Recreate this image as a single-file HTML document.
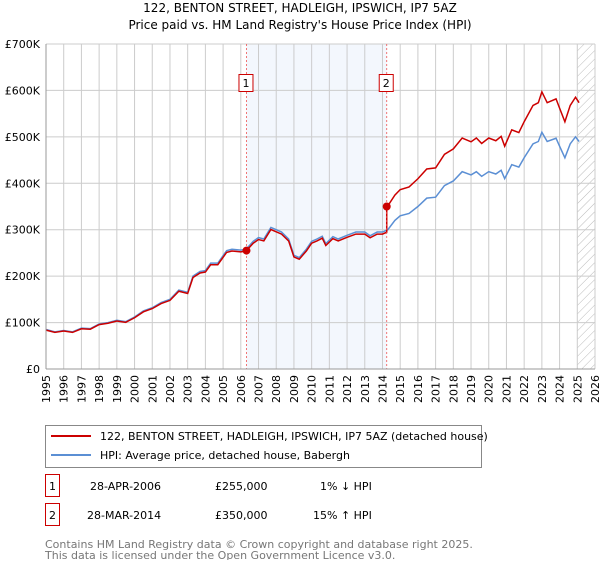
<!DOCTYPE html>
<html><head><meta charset="utf-8"><style>
body{margin:0;background:#fff;font-family:"DejaVu Sans","Liberation Sans",sans-serif;}
svg text{font-family:"DejaVu Sans","Liberation Sans",sans-serif;}
</style></head><body>
<svg id="chart" width="600" height="560" viewBox="0 0 600 560" xmlns="http://www.w3.org/2000/svg">
<defs><pattern id="hatch" width="6" height="6" patternUnits="userSpaceOnUse" patternTransform="rotate(45)"><line x1="0" y1="0" x2="0" y2="6" stroke="#bbb" stroke-width="1"/></pattern></defs>
<text x="300" y="12" text-anchor="middle" font-size="12">122, BENTON STREET, HADLEIGH, IPSWICH, IP7 5AZ</text>
<text x="300" y="29" text-anchor="middle" font-size="12">Price paid vs. HM Land Registry's House Price Index (HPI)</text>
<g id="grid"></g><g id="series"></g><g id="axes"></g>
<g>
<rect x="45.5" y="425.5" width="436" height="42" fill="#fff" stroke="#888"/>
<line x1="51" y1="436" x2="91" y2="436" stroke="#cc0000" stroke-width="2"/>
<text x="100" y="440" font-size="11">122, BENTON STREET, HADLEIGH, IPSWICH, IP7 5AZ (detached house)</text>
<line x1="51" y1="455" x2="91" y2="455" stroke="#5b8fd4" stroke-width="2"/>
<text x="100" y="459" font-size="11">HPI: Average price, detached house, Babergh</text>
</g>
<g font-size="11">
<rect x="45.5" y="474.5" width="14" height="22" fill="#fff" stroke="#cc0000"/><text x="52.5" y="490" text-anchor="middle">1</text>
<text x="90" y="490">28-APR-2006</text><text x="215" y="490">£255,000</text><text x="320" y="490">1% ↓ HPI</text>
<rect x="45.5" y="503.5" width="14" height="22" fill="#fff" stroke="#cc0000"/><text x="52.5" y="519" text-anchor="middle">2</text>
<text x="87" y="519">28-MAR-2014</text><text x="215" y="519">£350,000</text><text x="313" y="519">15% ↑ HPI</text>
</g>
<text x="45" y="548" font-size="11" fill="#777">Contains HM Land Registry data © Crown copyright and database right 2025.</text>
<text x="45" y="559" font-size="11" fill="#777">This data is licensed under the Open Government Licence v3.0.</text>
</svg>
<script>
const hpiYears=[1995.0,1995.5,1996.0,1996.5,1997.0,1997.5,1998.0,1998.5,1999.0,1999.5,2000.0,2000.5,2001.0,2001.5,2002.0,2002.5,2003.0,2003.3,2003.7,2004.0,2004.3,2004.7,2005.2,2005.5,2006.0,2006.3,2006.7,2007.0,2007.3,2007.7,2008.0,2008.3,2008.7,2009.0,2009.3,2009.7,2010.0,2010.3,2010.6,2010.8,2011.2,2011.5,2012.0,2012.5,2013.0,2013.3,2013.7,2014.0,2014.3,2014.7,2015.0,2015.5,2016.0,2016.5,2017.0,2017.5,2018.0,2018.5,2019.0,2019.3,2019.6,2020.0,2020.4,2020.7,2020.9,2021.3,2021.7,2022.0,2022.5,2022.8,2023.0,2023.3,2023.8,2024.0,2024.3,2024.6,2024.9,2025.1];
const hpiValues=[85,80,83,80,88,87,97,100,105,102,112,125,132,143,150,170,165,200,210,212,228,228,255,258,256,258,275,283,280,305,300,295,280,245,240,258,275,280,286,270,285,280,288,295,295,287,295,295,300,320,330,335,350,368,370,395,405,425,418,425,415,425,420,428,410,440,435,455,485,490,510,490,497,480,455,485,500,490];
const saleYears=[2006.32,2014.24];
const salePrices=[255,350];
const saleLabels=["1","2"];
const yTicks=[0,100,200,300,400,500,600,700];
const yTickLabels=["£0","£100K","£200K","£300K","£400K","£500K","£600K","£700K"];
const xTicks=[1995,1996,1997,1998,1999,2000,2001,2002,2003,2004,2005,2006,2007,2008,2009,2010,2011,2012,2013,2014,2015,2016,2017,2018,2019,2020,2021,2022,2023,2024,2025,2026];
const L=46,R=595,T=44,B=369;
const x=y=>L+(y-1995)/(2026-1995)*(R-L);
const yS=v=>B-v/700*(B-T);
const NS="http://www.w3.org/2000/svg";
function mk(p,t,a){const e=document.createElementNS(NS,t);for(const k in a)e.setAttribute(k,a[k]);p.appendChild(e);return e;}
const grid=document.getElementById('grid'),ser=document.getElementById('series'),ax=document.getElementById('axes');
const shade=mk(grid,'rect',{x:x(saleYears[0]),y:T,width:x(saleYears[1])-x(saleYears[0]),height:B-T,fill:'#eef3fc',opacity:0.7});


const hatch=mk(grid,'rect',{x:x(2025.0),y:T,width:R-x(2025.0),height:B-T,fill:'url(#hatch)'});


xTicks.forEach(t=>{const g=mk(grid,'line',{x1:x(t),x2:x(t),y1:T,y2:B,stroke:'#ccc','stroke-width':1});


const lb=mk(ax,'text',{transform:`translate(${x(t)+4},${B+6}) rotate(-90)`,'text-anchor':'end','font-size':11});lb.textContent=t;

});
yTicks.forEach((t,i)=>{const g=mk(grid,'line',{x1:L,x2:R,y1:yS(t),y2:yS(t),stroke:'#ccc','stroke-width':1});


const lb=mk(ax,'text',{x:L-6,y:yS(t)+4,'text-anchor':'end','font-size':11});lb.textContent=yTickLabels[i];

});
mk(ax,'line',{x1:L,x2:L,y1:T,y2:B,stroke:'#999'});mk(ax,'line',{x1:L,x2:R,y1:B,y2:B,stroke:'#999'});
function interp(yr){for(let i=0;i<hpiYears.length-1;i++){if(yr<=hpiYears[i+1])return hpiValues[i]+(hpiValues[i+1]-hpiValues[i])*(yr-hpiYears[i])/(hpiYears[i+1]-hpiYears[i]);}return hpiValues[hpiValues.length-1];}
const hp=mk(ser,'path',{d:hpiYears.map((yr,i)=>(i?'L':'M')+x(yr)+','+yS(hpiValues[i])).join(''),fill:'none',stroke:'#5b8fd4','stroke-width':1.5});


// property line: HPI indexed from each sale
const f1=salePrices[0]/interp(saleYears[0]),f2=salePrices[1]/interp(saleYears[1]);
let pts=[];
hpiYears.forEach((yr,i)=>{if(yr<saleYears[0])pts.push([yr,hpiValues[i]*f1]);});
pts.push([saleYears[0],salePrices[0]]);
hpiYears.forEach((yr,i)=>{if(yr>saleYears[0]&&yr<saleYears[1])pts.push([yr,hpiValues[i]*f1]);});
pts.push([saleYears[1],interp(saleYears[1])*f1]);pts.push([saleYears[1],salePrices[1]]);
hpiYears.forEach((yr,i)=>{if(yr>saleYears[1])pts.push([yr,hpiValues[i]*f2]);});
const pp=mk(ser,'path',{d:pts.map((p,i)=>(i?'L':'M')+x(p[0])+','+yS(p[1])).join(''),fill:'none',stroke:'#cc0000','stroke-width':1.5});


saleYears.forEach((yr,i)=>{
const vl=mk(ser,'line',{x1:x(yr),x2:x(yr),y1:T,y2:B,stroke:'#e55','stroke-width':0.8,'stroke-dasharray':'2,2'});


const c=mk(ser,'circle',{cx:x(yr),cy:yS(salePrices[i]),r:4,fill:'#cc0000'});


const b=mk(ser,'rect',{x:x(yr)-7.5,y:74.5,width:14,height:17,fill:'#fff',stroke:'#cc0000'});


const t=mk(ser,'text',{x:x(yr)-0.5,y:87,'text-anchor':'middle','font-size':11});t.textContent=saleLabels[i];

});
</script>
</body></html>
